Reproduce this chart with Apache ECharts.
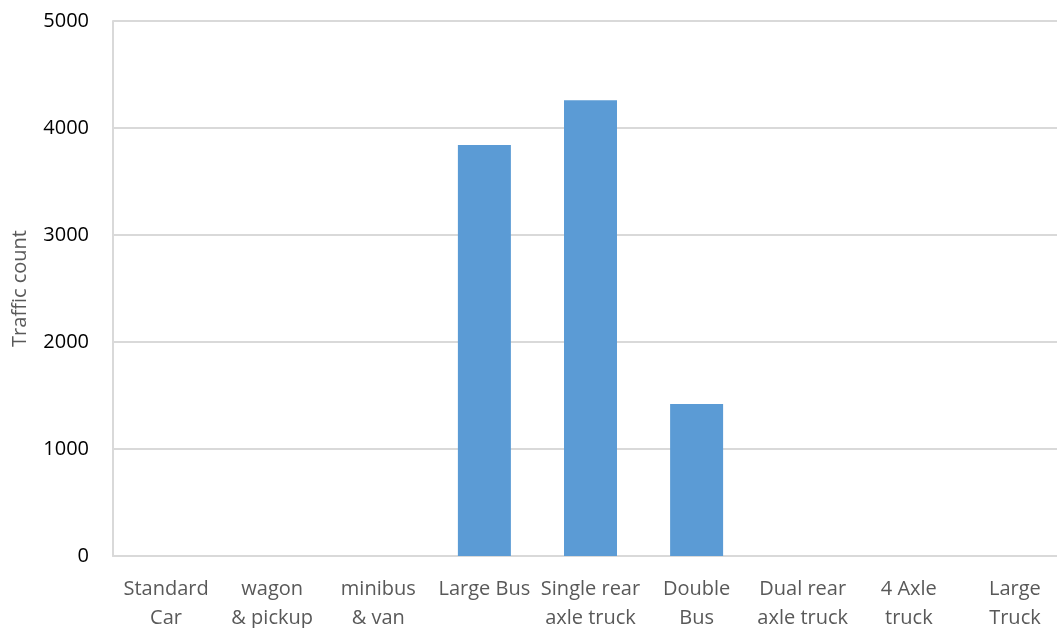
<!DOCTYPE html>
<html>
<head>
<meta charset="utf-8">
<script src="https://cdn.jsdelivr.net/npm/echarts@6/dist/echarts.min.js"></script>
<style>
  html, body { margin: 0; padding: 0; background: #fff; overflow: hidden; }
  #chart { width: 1057px; height: 628px; }
</style>
</head>
<body>
<div id="chart"></div>
<script>
// Vehicle classes on the x axis
const categories = [
  'Standard\nCar', 'wagon\n& pickup', 'minibus\n& van', 'Large Bus',
  'Single rear\naxle truck', 'Double\nBus', 'Dual rear\naxle truck', '4 Axle\ntruck', 'Large\nTruck'
];
// Traffic counts per class
const trafficCounts = [0, 0, 0, 3840, 4260, 1420, 0, 0, 0];
// Value axis range
const yMin = 0;
const yMax = 5000;
const yStep = 1000;

const chart = echarts.init(document.getElementById('chart'));
chart.setOption({
  animation: false,
  backgroundColor: '#ffffff',
  // the plot runs slightly past the right edge, so keep the grid box exactly as given
  grid: { left: 113, right: -11, top: 21, bottom: 72, containLabel: false, outerBoundsMode: 'none' },
  xAxis: {
    type: 'category',
    data: categories,
    axisLine: { show: true, lineStyle: { color: '#d9d9d9', width: 2 } },
    axisTick: { show: false },
    axisLabel: {
      interval: 0,
      margin: 19,
      color: '#595959',
      fontFamily: 'Open Sans',
      fontSize: 20,
      lineHeight: 29
    }
  },
  yAxis: {
    type: 'value',
    min: yMin,
    max: yMax,
    interval: yStep,
    name: 'Traffic count',
    nameLocation: 'middle',
    nameGap: 83,
    nameTextStyle: { color: '#595959', fontFamily: 'Open Sans', fontSize: 20 },
    axisLine: { show: true, lineStyle: { color: '#d9d9d9', width: 2 } },
    axisTick: { show: false },
    axisLabel: {
      color: '#000000', fontFamily: 'Open Sans', fontSize: 20, margin: 24,
      formatter: (v) => String(v)
    },
    splitLine: { show: true, lineStyle: { color: '#d9d9d9', width: 2 } }
  },
  series: [{
    type: 'bar',
    data: trafficCounts,
    barWidth: 53,
    itemStyle: { color: '#5b9bd5' }
  }]
});
</script>
</body>
</html>
